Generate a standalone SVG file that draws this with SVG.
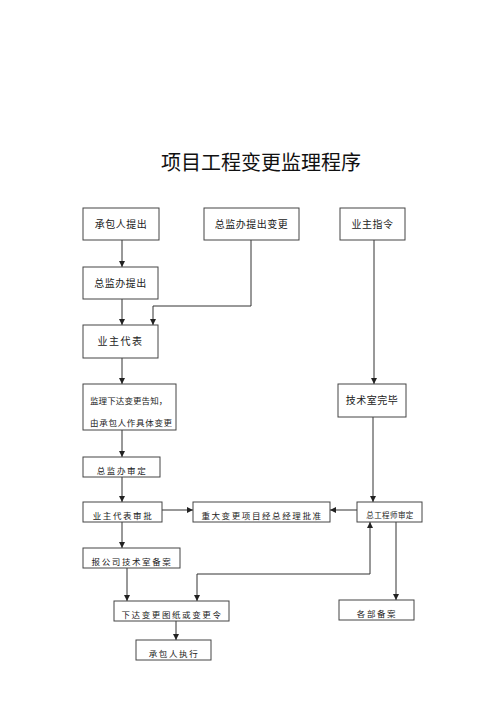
<svg xmlns="http://www.w3.org/2000/svg" width="500" height="707" viewBox="0 0 500 707">
<defs>
<marker id="ah" markerUnits="userSpaceOnUse" markerWidth="6" markerHeight="6" viewBox="0 0 6 6" refX="6" refY="3" orient="auto-start-reverse">
<path d="M0,0 L6,3 L0,6 Z" fill="#222"/>
</marker>
</defs>
<style>
.bx{fill:#fff;stroke:#444;stroke-width:1}
.t{font-family:"Noto Sans CJK SC","Noto Sans CJK JP",sans-serif;fill:#222;text-anchor:middle}
.big{font-size:10px;letter-spacing:0.5px}
.sm{font-size:8.5px;letter-spacing:1.6px}
.ln{fill:none;stroke:#333;stroke-width:1;marker-end:url(#ah)}
.title{font-family:"Noto Sans CJK SC",sans-serif;font-size:20px;fill:#111;text-anchor:middle}
</style>
<rect width="500" height="707" fill="#fff"/>
<text class="title" x="261" y="170">项目工程变更监理程序</text>

<g id="connectors">
<path class="ln" d="M122,240 V267"/>
<path class="ln" d="M251,240 V306 H153 V325"/>
<path class="ln" d="M122,299 V325"/>
<path class="ln" d="M122,358 V384"/>
<path class="ln" d="M374,240 V384"/>
<path class="ln" d="M122,430 V457"/>
<path class="ln" d="M122,477 V502"/>
<path class="ln" d="M162,510 H193"/>
<path class="ln" d="M357,510 H330"/>
<path class="ln" d="M373,417 V502"/>
<path class="ln" d="M122,522 V548"/>
<path class="ln" d="M127,568 V601"/>
<path class="ln" d="M197,601 V574 H370 V522" style="marker-start:url(#ah)"/>
<path class="ln" d="M396,522 V600"/>
<path class="ln" d="M176,621 V640"/>
</g>

<g id="n1"><rect class="bx" x="83" y="208" width="76" height="32"/><text class="t big" x="121" y="228">承包人提出</text></g>
<g id="n2"><rect class="bx" x="204" y="208" width="95" height="32"/><text class="t big" x="251.5" y="228">总监办提出变更</text></g>
<g id="n3"><rect class="bx" x="340" y="208" width="65" height="32"/><text class="t big" x="372.5" y="228">业主指令</text></g>
<g id="n4"><rect class="bx" x="83" y="267" width="75" height="32"/><text class="t big" x="120.5" y="287">总监办提出</text></g>
<g id="n5"><rect class="bx" x="83" y="325" width="75" height="33"/><text class="t big" x="120.5" y="345" style="letter-spacing:1.5px">业主代表</text></g>
<g id="n6"><rect class="bx" x="83" y="384" width="93" height="46"/>
<text class="t" x="90" y="404" style="text-anchor:start;font-size:8.5px;letter-spacing:0.1px">监理下达变更告知，</text>
<text class="t" x="90" y="426" style="text-anchor:start;font-size:8.5px;letter-spacing:0.7px">由承包人作具体变更</text></g>
<g id="n7"><rect class="bx" x="338" y="384" width="68" height="33"/><text class="t big" x="372" y="404">技术室完毕</text></g>
<g id="n8"><rect class="bx" x="83" y="457" width="77" height="20"/><text class="t sm" x="122" y="474">总监办审定</text></g>
<g id="n9"><rect class="bx" x="83" y="502" width="79" height="20"/><text class="t sm" x="123" y="519">业主代表审批</text></g>
<g id="n10"><rect class="bx" x="193" y="502" width="137" height="20"/><text class="t sm" x="262" y="519">重大变更项目经总经理批准</text></g>
<g id="n11"><rect class="bx" x="357" y="502" width="65" height="20"/><text class="t" x="390" y="518" style="font-size:7.5px;letter-spacing:0.4px">总工程师审定</text></g>
<g id="n12"><rect class="bx" x="83" y="548" width="97" height="20"/><text class="t sm" x="132" y="565">报公司技术室备案</text></g>
<g id="n13"><rect class="bx" x="114" y="601" width="115" height="20"/><text class="t sm" x="172" y="618">下达变更图纸或变更令</text></g>
<g id="n14"><rect class="bx" x="339" y="600" width="75" height="20"/><text class="t sm" x="377" y="617">各部备案</text></g>
<g id="n15"><rect class="bx" x="136" y="640" width="75" height="20"/><text class="t sm" x="174" y="657">承包人执行</text></g>
</svg>
